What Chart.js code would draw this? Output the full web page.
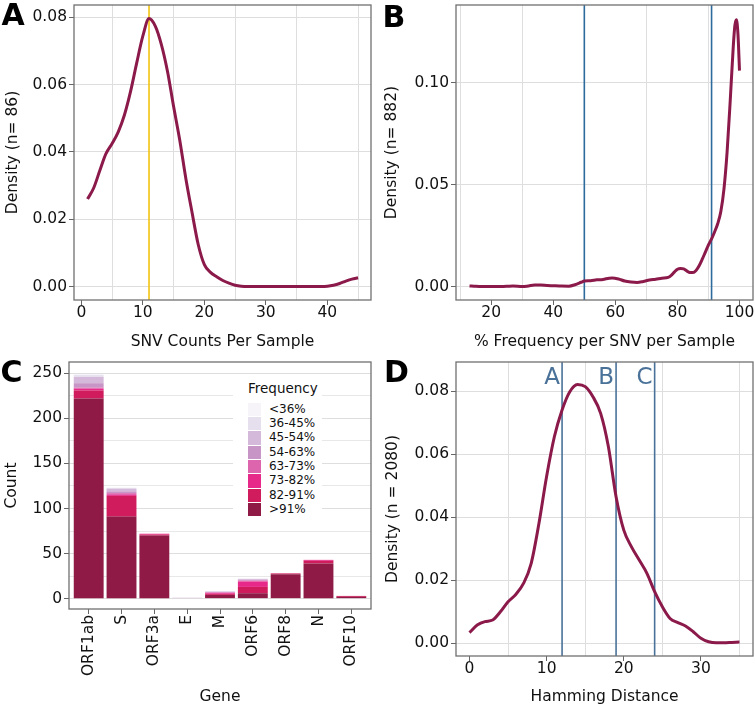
<!DOCTYPE html>
<html>
<head>
<meta charset="utf-8">
<title>SNV summary</title>
<script src="https://cdn.jsdelivr.net/npm/chart.js@4.4.1/dist/chart.umd.min.js"></script>
<style>
  body { margin: 0; background: #fff; }
  #fig { position: relative; width: 755px; height: 707px; font-family: 'DejaVu Sans', sans-serif; color: #111; }
  #fig canvas { position: absolute; }
  .tag { position: absolute; font-weight: bold; font-size: 30px; line-height: 1; color: #000; }
  #legendC { position: absolute; left: 233px; top: 378px; width: 89px; height: 138px; background: #fff; }
  #legendC .ttl { position: absolute; left: 15px; top: 4px; font-size: 13.5px; line-height: 1; }
  #legendC .row { position: absolute; left: 15px; height: 13.4px; font-size: 12px; line-height: 13.4px; white-space: nowrap; }
  #legendC .sw { display: inline-block; width: 13.4px; height: 13.4px; vertical-align: top; margin-right: 7.6px; }
</style>
</head>
<body>
<div id="fig">
  <canvas id="chartA" width="378" height="352" style="left:0;top:0"></canvas>
  <canvas id="chartB" width="377" height="352" style="left:378px;top:0"></canvas>
  <canvas id="chartC" width="378" height="352" style="left:0;top:355px"></canvas>
  <canvas id="chartD" width="377" height="352" style="left:378px;top:355px"></canvas>
  <div class="tag" style="left:1.5px;top:0">A</div>
  <div class="tag" style="left:382.5px;top:1.5px">B</div>
  <div class="tag" style="left:0.5px;top:356.5px">C</div>
  <div class="tag" style="left:384px;top:356.5px">D</div>
  <div id="legendC"></div>
</div>
<script>
// A: SNV counts per sample (density)
const snvCounts = [1, 2, 3, 4, 5, 6, 7, 8, 9, 10, 11, 12, 13, 14, 15, 16, 17, 18, 19, 20, 21, 22, 23,
  24, 25, 26, 27, 28, 29, 30, 31, 32, 33, 34, 35, 36, 37, 38, 39, 40, 41, 42, 43, 44, 45];
const snvDensity = [0.026, 0.0293, 0.0345, 0.0395, 0.0425, 0.046, 0.051, 0.058, 0.0665, 0.0745, 0.0797,
  0.0775, 0.072, 0.064, 0.0535, 0.0435, 0.032, 0.022, 0.0125, 0.0065, 0.0042, 0.0029, 0.0018, 0.001,
  0.0004, 0.0001, 0, 0, 0, 0, 0, 0, 0, 0, 0, 0, 0, 0, 0, 0.0001, 0.0004, 0.0009, 0.0016, 0.0022, 0.0026];
const snvMedian = [11];

// B: % frequency per SNV per sample (density)
const freqPct = [13, 15, 17, 20, 23, 25, 27, 30, 32, 34, 36, 38, 40, 42, 45, 47, 49, 50, 52, 54, 56, 58,
  59, 61, 63, 65, 67, 69, 71, 73, 75, 77, 78, 79, 80, 81, 82, 83, 84, 85, 86, 87, 88, 89, 90, 91, 92,
  93, 94, 95, 96, 97, 98, 98.5, 99, 99.5, 100];
const freqDensity = [0.0004, 0.0002, 0.0001, 0.0001, 0.0001, 0.0002, 0.0004, 0.0001, 0.0004, 0.0008,
  0.0008, 0.0006, 0.0005, 0.0004, 0.0003, 0.001, 0.0022, 0.0028, 0.003, 0.0034, 0.0036, 0.0042, 0.0043,
  0.0038, 0.0028, 0.0023, 0.0021, 0.0026, 0.0033, 0.0037, 0.0042, 0.0046, 0.0056, 0.0072, 0.0086, 0.009,
  0.0088, 0.0078, 0.007, 0.007, 0.008, 0.0103, 0.0135, 0.017, 0.0205, 0.0235, 0.027, 0.031, 0.037, 0.048,
  0.066, 0.091, 0.118, 0.128, 0.131, 0.124, 0.106];
const freqCutoffs = [50, 91];

// C: SNV counts per gene, stacked by frequency bin
const genes = ['ORF1ab', 'S', 'ORF3a', 'E', 'M', 'ORF6', 'ORF8', 'N', 'ORF10'];
const freqBins = ['>91%', '82-91%', '73-82%', '63-73%', '54-63%', '45-54%', '36-45%', '<36%'];
const binColors = ['#8e1a45', '#d01c5c', '#e7298a', '#dc65ae', '#c896c6', '#d4b9da', '#e6e0ee', '#f6f3f9'];
const countsOver91 = [222, 91, 70, 0, 4, 6, 27, 39, 2];
const counts82to91 = [9, 23, 1, 0, 1, 7, 1, 3, 1];
const counts73to82 = [2, 1, 1, 0, 1, 6, 0, 1, 0];
const counts63to73 = [1, 2, 0, 0, 1, 1, 0, 0, 0];
const counts54to63 = [5, 2, 0, 0, 0, 1, 0, 0, 0];
const counts45to54 = [7, 3, 0, 1, 1, 1, 0, 0, 0];
const counts36to45 = [2, 1, 0, 0, 0, 0, 0, 0, 0];
const countsUnder36 = [1, 0, 0, 0, 0, 0, 0, 0, 0];
const binCounts = [countsOver91, counts82to91, counts73to82, counts63to73, counts54to63,
  counts45to54, counts36to45, countsUnder36];

// D: pairwise Hamming distance (density)
const hamming = [0, 1, 2, 3, 4, 5, 6, 7, 8, 9, 10, 11, 12, 13, 14, 15, 16, 17, 18, 19, 20, 21, 22, 23,
  24, 25, 26, 27, 28, 29, 30, 31, 32, 33, 34, 35];
const hamDensity = [0.0034, 0.0058, 0.0069, 0.0074, 0.01, 0.0132, 0.0155, 0.019, 0.0254, 0.038, 0.053,
  0.0655, 0.074, 0.0798, 0.0821, 0.0814, 0.0782, 0.0729, 0.0624, 0.0465, 0.0359, 0.0306, 0.0264, 0.0222,
  0.0164, 0.0116, 0.0079, 0.0066, 0.0055, 0.0037, 0.0016, 0.0005, 0.0002, 0.0002, 0.0003, 0.0004];
const clusterCuts = [12, 19, 24];
const clusterNames = ['A', 'B', 'C'];

Chart.defaults.font.family = 'DejaVu Sans';
Chart.defaults.animation = false;
Chart.defaults.events = [];

const curveColor = '#8b1a4b';
const gridGrey = '#dedede';
const tickGrey = '#666';
const tickFont = { size: 15.5, lineHeight: 1 };
const titleFont = { size: 15.5 };

const isStep = (v, step) => Math.abs(v / step - Math.round(v / step)) < 1e-6;

// frame around the plot area
const framePlugin = {
  id: 'frame',
  afterDatasetsDraw(chart) {
    const { ctx, chartArea: a } = chart;
    ctx.save();
    ctx.strokeStyle = '#707070';
    ctx.lineWidth = 1.3;
    ctx.strokeRect(a.left, a.top, a.right - a.left, a.bottom - a.top);
    ctx.restore();
  }
};

// vertical reference lines (and optional names)
const markerPlugin = {
  id: 'markers',
  beforeDatasetsDraw(chart, args, opts) {
    if (!opts.at) return;
    const { ctx, chartArea: a, scales: { x } } = chart;
    ctx.save();
    ctx.strokeStyle = opts.color;
    ctx.fillStyle = opts.color;
    ctx.lineWidth = 1.6;
    ctx.font = '23px "DejaVu Sans"';
    ctx.textAlign = 'right';
    ctx.textBaseline = 'alphabetic';
    opts.at.forEach((v, i) => {
      const px = x.getPixelForValue(v);
      ctx.beginPath();
      ctx.moveTo(px, a.top);
      ctx.lineTo(px, a.bottom);
      ctx.stroke();
      if (opts.names) ctx.fillText(opts.names[i], px - 2, a.top + 21.5);
    });
    ctx.restore();
  }
};

function xAxis(min, max, major, title, height) {
  return {
    type: 'linear', min, max,
    afterFit: s => { s.height = height; s.paddingLeft = 0; s.paddingRight = 0; },
    ticks: {
      stepSize: major / 2, includeBounds: false, autoSkip: false, maxRotation: 0,
      padding: 0, color: '#111', font: tickFont,
      callback: v => isStep(v, major) ? String(v) : ''
    },
    grid: {
      color: c => isStep(c.tick.value, major) ? 'rgba(0,0,0,0)' : gridGrey,
      tickColor: c => isStep(c.tick.value, major) ? tickGrey : 'rgba(0,0,0,0)',
      tickLength: 5
    },
    border: { display: false },
    title: { display: true, text: title, color: '#111', font: titleFont, padding: { top: 0, bottom: 0.7 } }
  };
}

function yAxis(min, max, step, title, width, titlePad) {
  return {
    min, max,
    afterFit: s => { s.width = width; s.paddingTop = 0; s.paddingBottom = 0; },
    ticks: {
      stepSize: step, includeBounds: false, autoSkip: false, padding: 2, color: '#111', font: tickFont,
      callback: v => v.toFixed(2)
    },
    grid: { color: gridGrey, tickColor: tickGrey, tickLength: 5 },
    border: { display: false },
    title: { display: true, text: title, color: '#111', font: titleFont, padding: { top: titlePad, bottom: 0 } }
  };
}

function densityChart(id, xs, ys, xScale, yScale, markers, padRight, padTop) {
  return new Chart(document.getElementById(id), {
    type: 'line',
    data: {
      labels: xs,
      datasets: [{
        data: ys,
        borderColor: curveColor,
        borderWidth: 3,
        pointRadius: 0,
        cubicInterpolationMode: 'monotone',
        fill: false
      }]
    },
    options: {
      responsive: false,
      layout: { padding: { left: 0, right: padRight, top: padTop, bottom: 0 } },
      scales: { x: xScale, y: yScale },
      plugins: { legend: { display: false }, tooltip: { enabled: false }, markers }
    },
    plugins: [markerPlugin, framePlugin]
  });
}

const chartA = densityChart('chartA', snvCounts, snvDensity,
  xAxis(-1.2, 47.1, 10, 'SNV Counts Per Sample', 52),
  yAxis(-0.004, 0.0837, 0.02, 'Density (n= 86)', 74, 3.4),
  { at: snvMedian, color: '#f2c30f' }, 7, 5);

const chartB = densityChart('chartB', freqPct, freqDensity,
  xAxis(8.65, 104.35, 20, '% Frequency per SNV per Sample', 52),
  yAxis(-0.0065, 0.1382, 0.05, 'Density (n= 882)', 78, 5),
  { at: freqCutoffs, color: '#2d6b9d' }, 2, 5);

const chartD = densityChart('chartD', hamming, hamDensity,
  xAxis(-1.75, 36.75, 10, 'Hamming Distance', 51),
  yAxis(-0.004, 0.0892, 0.02, 'Density (n = 2080)', 78, 6),
  { at: clusterCuts, names: clusterNames, color: '#4a7299' }, 2, 7);

const chartC = new Chart(document.getElementById('chartC'), {
  type: 'bar',
  data: {
    labels: genes.map((g, i) => i),
    datasets: freqBins.map((bin, k) => ({
      label: bin,
      data: binCounts[k],
      backgroundColor: binColors[k],
      borderWidth: 0,
      barPercentage: 0.91,
      categoryPercentage: 1
    }))
  },
  options: {
    responsive: false,
    layout: { padding: { left: 0, right: 7, top: 7, bottom: 0 } },
    scales: {
      x: {
        type: 'linear', min: -0.6, max: 8.6, stacked: true, offset: false,
        afterFit: s => { s.height = 98; s.paddingLeft = 0; s.paddingRight = 0; },
        ticks: {
          stepSize: 1, includeBounds: false, autoSkip: false, minRotation: 90, maxRotation: 90,
          padding: 1, color: '#111', font: tickFont,
          callback: v => genes[v]
        },
        grid: { drawOnChartArea: false, tickColor: tickGrey, tickLength: 5, offset: false },
        border: { display: false },
        title: { display: true, text: 'Gene', color: '#111', font: titleFont, padding: { top: 0, bottom: 1 } }
      },
      y: {
        min: -11.5, max: 262.5, stacked: true,
        afterFit: s => { s.width = 69; s.paddingTop = 0; s.paddingBottom = 0; },
        ticks: {
          stepSize: 25, includeBounds: false, autoSkip: false, padding: 2, color: '#111', font: tickFont,
          callback: v => isStep(v, 50) ? String(v) : ''
        },
        grid: {
          color: c => isStep(c.tick.value, 50) ? gridGrey : '#e8e8e8',
          tickColor: c => isStep(c.tick.value, 50) ? tickGrey : 'rgba(0,0,0,0)',
          tickLength: 5
        },
        border: { display: false },
        title: { display: true, text: 'Count', color: '#111', font: titleFont, padding: { top: 2.4, bottom: 0 } }
      }
    },
    plugins: { legend: { display: false }, tooltip: { enabled: false } }
  },
  plugins: [framePlugin]
});

// legend for panel C, highest frequency bin listed last
const legendC = document.getElementById('legendC');
legendC.innerHTML = '<div class="ttl">Frequency</div>' + freqBins.slice().reverse().map((bin, i) => {
  const k = freqBins.length - 1 - i;
  return '<div class="row" style="top:' + (24.7 + 14.3 * i).toFixed(1) + 'px"><span class="sw" style="background:' +
    binColors[k] + '"></span>' + bin.replace('<', '&lt;').replace('>', '&gt;') + '</div>';
}).join('');
</script>
</body>
</html>
